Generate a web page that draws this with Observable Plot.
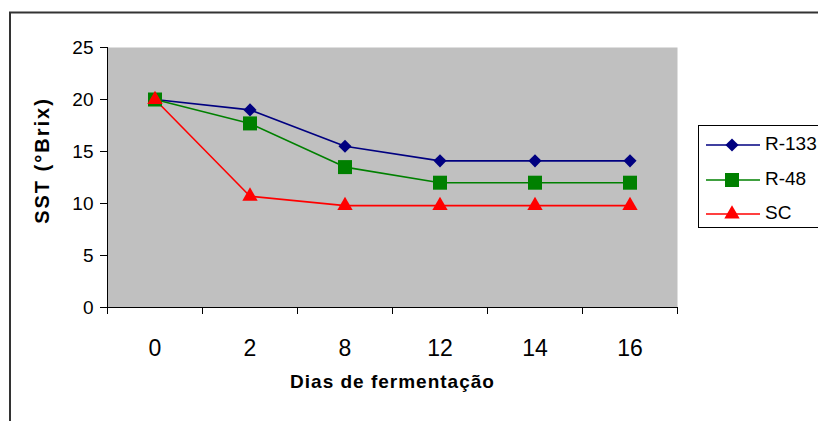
<!DOCTYPE html>
<html>
<head>
<meta charset="utf-8">
<script src="https://cdn.jsdelivr.net/npm/d3@7"></script>
<script src="https://cdn.jsdelivr.net/npm/@observablehq/plot@0.6"></script>
<style>
  body { margin: 0; background: #fff; }
  svg { display: block; }
</style>
</head>
<body>
<div id="chart"></div>
<script>
// ---- data ----
const days = ["0", "2", "8", "12", "14", "16"];
const seriesNames = ["R-133", "R-48", "SC"];
const r133 = [20, 19, 15.5, 14.1, 14.1, 14.1];
const r48 = [20, 17.7, 13.5, 12, 12, 12];
const sc = [20, 10.7, 9.8, 9.8, 9.8, 9.8];
const yTicks = [0, 5, 10, 15, 20, 25];
const xTitle = "Dias de fermentação";
const yTitle = "SST (°Brix)";

// ---- styling ----
const colors = ["#000080", "#008000", "#ff0000"];
const symbols = ["diamond2", "square", "triangle"];
const radii = [5.9, 7.9, 5.7];
const font = "'Liberation Sans', Arial, sans-serif";

const seriesValues = [r133, r48, sc];
const rows = seriesNames.flatMap((s, k) =>
  seriesValues[k].map((v, i) => ({ i, day: days[i], v, s }))
);
const idx = days.map((d, i) => i);
const bounds = d3.range(-0.5, days.length, 1);

const chart = Plot.plot({
  width: 818,
  height: 421,
  marginLeft: 107,
  marginRight: 141,
  marginTop: 47,
  marginBottom: 114,
  style: { background: "#fff", color: "#000", fontFamily: font },
  x: { type: "linear", domain: [-0.5, days.length - 0.5] },
  y: { domain: [0, 25] },
  color: { domain: seriesNames, range: colors },
  marks: [
    Plot.frame({ fill: "#c0c0c0", stroke: "none" }),
    Plot.axisY({ ticks: yTicks, tickSize: 7, tickPadding: 7, fontSize: 19, label: null, stroke: "#000" }),
    Plot.axisX({ ticks: bounds, tickFormat: () => "", tickSize: 7, label: null, stroke: "#000" }),
    Plot.axisX({ ticks: idx, tickFormat: (i) => days[i], tickSize: 0, tickPadding: 32, fontSize: 23, label: null }),
    Plot.ruleX([-0.5], { stroke: "#000", strokeWidth: 1 }),
    Plot.ruleY([0], { stroke: "#000", strokeWidth: 1 }),
    Plot.line(rows, { x: "i", y: "v", z: "s", stroke: "s", strokeWidth: 1.6 }),
    ...seriesNames.map((name, k) =>
      Plot.dot(rows.filter((d) => d.s === name), {
        x: "i", y: "v", symbol: symbols[k], r: radii[k], fill: colors[k], stroke: "none"
      })
    ),
    Plot.text([xTitle], {
      frameAnchor: "bottom", dy: 80, fontSize: 19, fontWeight: "bold", fill: "#000"
    }),
    Plot.text([yTitle], {
      frameAnchor: "left", textAnchor: "middle", dx: -65, dy: -17, rotate: -90,
      fontSize: 20, fontWeight: "bold", fill: "#000"
    })
  ]
});

document.getElementById("chart").append(chart);

// letter spacing for titles (Excel-like spacing)
const svg = d3.select(chart);
svg.selectAll("text").filter(function () { return this.textContent === xTitle; })
  .attr("letter-spacing", "1px");
svg.selectAll("text").filter(function () { return this.textContent === yTitle; })
  .attr("letter-spacing", "2px");

// outer chart-area border
svg.append("rect")
  .attr("x", 10).attr("y", 12.5).attr("width", 900).attr("height", 500)
  .attr("fill", "none").attr("stroke", "#333").attr("stroke-width", 2);

// legend
const lg = svg.append("g").attr("font-family", font).attr("text-anchor", "start");
lg.append("rect")
  .attr("x", 698.5).attr("y", 125.5).attr("width", 200).attr("height", 102)
  .attr("fill", "#fff").attr("stroke", "#000").attr("stroke-width", 1);
const symTypes = [d3.symbolDiamond2, d3.symbolSquare, d3.symbolTriangle];
const rowY = [145, 180, 214];
seriesNames.forEach((name, k) => {
  const y = rowY[k];
  lg.append("line").attr("x1", 706).attr("x2", 760).attr("y1", y).attr("y2", y)
    .attr("stroke", colors[k]).attr("stroke-width", 1.6);
  lg.append("path")
    .attr("d", d3.symbol().type(symTypes[k]).size(Math.PI * radii[k] * radii[k])())
    .attr("transform", `translate(732,${y})`).attr("fill", colors[k]);
  lg.append("text").attr("x", 765).attr("y", y - 2).attr("dy", "0.35em")
    .attr("text-anchor", "start")
    .attr("font-size", 19).attr("fill", "#000").text(name);
});
</script>
</body>
</html>
